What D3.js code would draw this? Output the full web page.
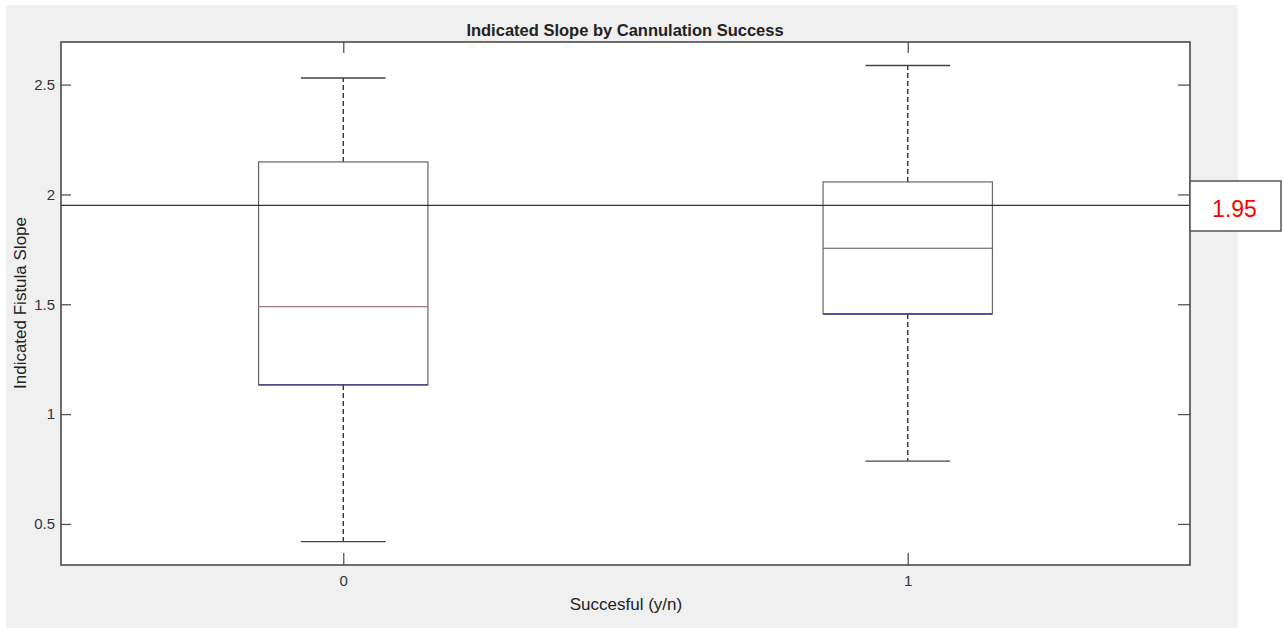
<!DOCTYPE html>
<html>
<head>
<meta charset="utf-8">
<script src="https://cdn.jsdelivr.net/npm/d3@7"></script>
<style>
  html, body { margin: 0; padding: 0; background: #ffffff; }
  svg { display: block; }
</style>
</head>
<body>
<script>
// Box plot summary per group (Succesful y/n)
const categories   = [0, 1];
const whiskerLow   = [0.419, 0.786];
const quartile1    = [1.133, 1.456];
const medians      = [1.489, 1.755];
const quartile3    = [2.148, 2.057];
const whiskerHigh  = [2.530, 2.587];
const referenceValue = 1.95;
const yTicks = [0.5, 1, 1.5, 2, 2.5];
const xTicks = [0, 1];

const W = 1283, H = 628;
const plot = { left: 61, right: 1190, top: 42, bottom: 565 };

const svg = d3.select("body").append("svg")
  .attr("width", W).attr("height", H);

// figure background
svg.append("rect").attr("x", 6).attr("y", 5).attr("width", 1232).attr("height", 623)
  .attr("fill", "#f0f0f0");
// axes background
svg.append("rect")
  .attr("x", plot.left).attr("y", plot.top)
  .attr("width", plot.right - plot.left).attr("height", plot.bottom - plot.top)
  .attr("fill", "#ffffff");

const x = d3.scaleLinear().domain([-0.5, 1.5]).range([plot.left, plot.right]);
const y = d3.scaleLinear().domain([0.313, 2.694]).range([plot.bottom, plot.top]);

const axisColor = "#4a4a4a";
const font = "'Liberation Sans', Arial, sans-serif";

// left axis with inward ticks
const gL = svg.append("g").attr("transform", `translate(${plot.left},0)`)
  .call(d3.axisLeft(y).tickValues(yTicks).tickSizeInner(-10).tickSizeOuter(0)
    .tickPadding(6).tickFormat(d3.format("")));
// right axis ticks
const gR = svg.append("g").attr("transform", `translate(${plot.right},0)`)
  .call(d3.axisRight(y).tickValues(yTicks).tickSizeInner(-12).tickSizeOuter(0).tickFormat(""));
// bottom axis
const gB = svg.append("g").attr("transform", `translate(0,${plot.bottom})`)
  .call(d3.axisBottom(x).tickValues(xTicks).tickSizeInner(-12).tickSizeOuter(0)
    .tickPadding(10).tickFormat(d3.format("d")));
// top axis ticks
const gT = svg.append("g").attr("transform", `translate(0,${plot.top})`)
  .call(d3.axisTop(x).tickValues(xTicks).tickSizeInner(-11).tickSizeOuter(0).tickFormat(""));

[gL, gR, gB, gT].forEach(g => {
  g.select(".domain").remove();
  g.selectAll(".tick line").attr("stroke", "#555").attr("stroke-width", 1.3);
  g.selectAll(".tick text").attr("fill", "#333").attr("font-family", font).attr("font-size", 15);
});

// axes frame
svg.append("rect")
  .attr("x", plot.left).attr("y", plot.top)
  .attr("width", plot.right - plot.left).attr("height", plot.bottom - plot.top)
  .attr("fill", "none").attr("stroke", axisColor).attr("stroke-width", 1.6);

const boxHalf = 0.15, capHalf = 0.075;
const groups = categories.map((c, i) => ({
  c, lo: whiskerLow[i], q1: quartile1[i], med: medians[i], q3: quartile3[i], hi: whiskerHigh[i]
}));
const medColors = ["#a07a88", "#555555"];

const gBox = svg.append("g");
groups.forEach((d, i) => {
  const cx = x(d.c);
  // whiskers (dashed)
  gBox.append("line").attr("x1", cx).attr("x2", cx).attr("y1", y(d.q3)).attr("y2", y(d.hi))
    .attr("stroke", "#222").attr("stroke-width", 1.3).attr("stroke-dasharray", "5,3");
  gBox.append("line").attr("x1", cx).attr("x2", cx).attr("y1", y(d.q1)).attr("y2", y(d.lo))
    .attr("stroke", "#222").attr("stroke-width", 1.3).attr("stroke-dasharray", "5,3");
  // whisker caps
  [d.hi, d.lo].forEach(v => {
    gBox.append("line").attr("x1", x(d.c - capHalf)).attr("x2", x(d.c + capHalf))
      .attr("y1", y(v)).attr("y2", y(v)).attr("stroke", "#444").attr("stroke-width", 1.3);
  });
  // box
  gBox.append("rect")
    .attr("x", x(d.c - boxHalf)).attr("y", y(d.q3))
    .attr("width", x(d.c + boxHalf) - x(d.c - boxHalf)).attr("height", y(d.q1) - y(d.q3))
    .attr("fill", "none").attr("stroke", "#666").attr("stroke-width", 1.2);
  // lower edge of box
  gBox.append("line").attr("x1", x(d.c - boxHalf)).attr("x2", x(d.c + boxHalf))
    .attr("y1", y(d.q1)).attr("y2", y(d.q1)).attr("stroke", "#3a3a8a").attr("stroke-width", 1.4);
  // median
  gBox.append("line").attr("x1", x(d.c - boxHalf)).attr("x2", x(d.c + boxHalf))
    .attr("y1", y(d.med)).attr("y2", y(d.med)).attr("stroke", medColors[i]).attr("stroke-width", 1.2);
});

// reference line
svg.append("line")
  .attr("x1", plot.left).attr("x2", plot.right)
  .attr("y1", y(referenceValue)).attr("y2", y(referenceValue))
  .attr("stroke", "#333").attr("stroke-width", 1.3);

// reference value callout
const cb = { x: 1190, y: 181, w: 91, h: 50 };
svg.append("rect").attr("x", cb.x).attr("y", cb.y).attr("width", cb.w).attr("height", cb.h)
  .attr("fill", "#ffffff").attr("stroke", "#555").attr("stroke-width", 1.5);
svg.append("text").attr("x", cb.x + cb.w / 2 - 1).attr("y", 217)
  .attr("text-anchor", "middle").attr("font-family", font).attr("font-size", 23)
  .attr("fill", "#ff0000").text(d3.format(".2f")(referenceValue));

// title and axis labels
svg.append("text").attr("x", 625).attr("y", 36).attr("text-anchor", "middle")
  .attr("font-family", font).attr("font-weight", "bold").attr("font-size", 16.5)
  .attr("fill", "#222").text("Indicated Slope by Cannulation Success");
svg.append("text").attr("x", 626).attr("y", 610).attr("text-anchor", "middle")
  .attr("font-family", font).attr("font-size", 17)
  .attr("fill", "#222").text("Succesful (y/n)");
svg.append("text").attr("transform", "translate(26,303) rotate(-90)").attr("text-anchor", "middle")
  .attr("font-family", font).attr("font-size", 17)
  .attr("fill", "#222").text("Indicated Fistula Slope");
</script>
</body>
</html>
